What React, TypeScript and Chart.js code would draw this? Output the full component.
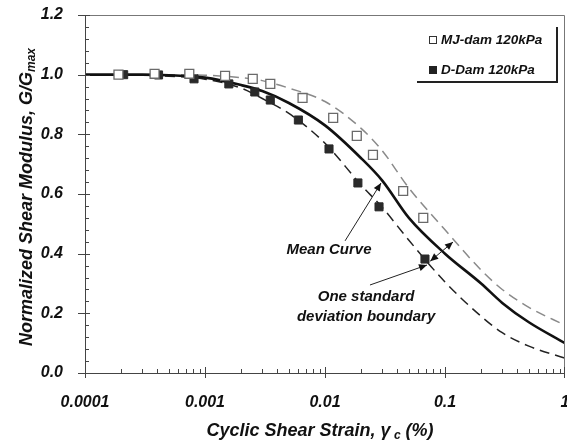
import React, { useEffect, useRef } from 'react';
import { Chart, registerables } from 'chart.js';

Chart.register(...registerables);

// ---------- data ----------
const curveStrain = [0.0001, 0.0002, 0.0003, 0.0005, 0.001, 0.002, 0.003, 0.005, 0.01, 0.02, 0.03, 0.05, 0.1, 0.2, 0.3, 0.5, 1];
const meanCurve = [1.0, 1.0, 1.0, 0.998, 0.99, 0.965, 0.945, 0.905, 0.83, 0.72, 0.645, 0.52, 0.40, 0.30, 0.235, 0.17, 0.10];
const upperCurve = [1.0, 1.0, 1.0, 1.0, 0.998, 0.99, 0.98, 0.955, 0.91, 0.82, 0.745, 0.62, 0.48, 0.345, 0.28, 0.22, 0.16];
const lowerCurve = [1.0, 1.0, 0.998, 0.995, 0.985, 0.955, 0.92, 0.87, 0.77, 0.63, 0.555, 0.445, 0.305, 0.19, 0.135, 0.09, 0.05];

const mjStrain = [0.00019, 0.00038, 0.00074, 0.00147, 0.0025, 0.0035, 0.0065, 0.0117, 0.0184, 0.0251, 0.0448, 0.0659];
const mjModulus = [1.0, 1.003, 1.003, 0.996, 0.986, 0.969, 0.922, 0.855, 0.795, 0.731, 0.61, 0.52];
const dStrain = [0.00021, 0.00041, 0.00081, 0.00158, 0.0026, 0.0035, 0.006, 0.0108, 0.0188, 0.0282, 0.0681];
const dModulus = [1.0, 0.999, 0.986, 0.969, 0.942, 0.915, 0.848, 0.751, 0.637, 0.557, 0.382];

const xTickValues = [0.0001, 0.001, 0.01, 0.1, 1];
const xTickLabels = ['0.0001', '0.001', '0.01', '0.1', '1'];
const yTickValues = [0, 0.2, 0.4, 0.6, 0.8, 1.0, 1.2];
const yTickLabels = ['0.0', '0.2', '0.4', '0.6', '0.8', '1.0', '1.2'];

const legendLabels = ['MJ-dam 120kPa', 'D-Dam 120kPa'];

// annotations in data units
const meanLabel = { text: 'Mean Curve', x: 0.0108, y: 0.412 };
const meanArrow = { from: [0.0147, 0.443], to: [0.0293, 0.637] };
const sdLabel = [
  { text: 'One standard', x: 0.022, y: 0.255 },
  { text: 'deviation boundary', x: 0.022, y: 0.188 },
];
const sdArrow = { from: [0.0237, 0.295], to: [0.0708, 0.362] };
const sdDoubleArrow = { from: [0.0753, 0.375], to: [0.1166, 0.439] };

const FONT_FAMILY = '"Liberation Sans", Arial, sans-serif';
const f = (size: number) => `italic bold ${size}px ${FONT_FAMILY}`;

function drawArrowHead(ctx: CanvasRenderingContext2D, x1: number, y1: number, x2: number, y2: number) {
  const ang = Math.atan2(y2 - y1, x2 - x1);
  const len = 8;
  const w = 3.5;
  ctx.beginPath();
  ctx.moveTo(x2, y2);
  ctx.lineTo(x2 - len * Math.cos(ang) + w * Math.sin(ang), y2 - len * Math.sin(ang) - w * Math.cos(ang));
  ctx.lineTo(x2 - len * Math.cos(ang) - w * Math.sin(ang), y2 - len * Math.sin(ang) + w * Math.cos(ang));
  ctx.closePath();
  ctx.fill();
}

function drawRich(ctx: CanvasRenderingContext2D, parts: { t: string; sub?: boolean }[], size: number, subSize: number) {
  let total = 0;
  parts.forEach((p) => {
    ctx.font = f(p.sub ? subSize : size);
    total += ctx.measureText(p.t).width;
  });
  let x = -total / 2;
  ctx.textBaseline = 'middle';
  ctx.textAlign = 'left';
  parts.forEach((p) => {
    ctx.font = f(p.sub ? subSize : size);
    ctx.fillText(p.t, x, p.sub ? 5 : 0);
    x += ctx.measureText(p.t).width;
  });
}

const decorPlugin = {
  id: 'decor',
  afterDraw(chart: any) {
    const ctx: CanvasRenderingContext2D = chart.ctx;
    const xs = chart.scales.x;
    const ys = chart.scales.y;
    const ca = chart.chartArea;
    ctx.save();

    // frame top/right
    ctx.strokeStyle = '#777';
    ctx.lineWidth = 1;
    ctx.beginPath();
    ctx.moveTo(ca.left, ca.top + 0.5);
    ctx.lineTo(ca.right - 0.5, ca.top + 0.5);
    ctx.lineTo(ca.right - 0.5, ca.bottom);
    ctx.stroke();

    // axes lines
    ctx.strokeStyle = '#444';
    ctx.beginPath();
    ctx.moveTo(ca.left + 0.5, ca.top);
    ctx.lineTo(ca.left + 0.5, ca.bottom + 0.5);
    ctx.lineTo(ca.right, ca.bottom + 0.5);
    ctx.stroke();

    // x ticks
    ctx.beginPath();
    xTickValues.forEach((v, i) => {
      const px = Math.min(Math.round(xs.getPixelForValue(v)) + 0.5, ca.right - 0.5);
      ctx.moveTo(px, ca.bottom - 6);
      ctx.lineTo(px, ca.bottom + 5);
      if (i < xTickValues.length - 1) {
        for (let m = 2; m <= 9; m++) {
          const mx = Math.round(xs.getPixelForValue(v * m)) + 0.5;
          ctx.moveTo(mx, ca.bottom);
          ctx.lineTo(mx, ca.bottom - 4);
        }
      }
    });
    // y ticks
    yTickValues.forEach((v, i) => {
      const py = Math.round(ys.getPixelForValue(v)) + 0.5;
      ctx.moveTo(ca.left - 7, py);
      ctx.lineTo(ca.left + 5, py);
      if (i < yTickValues.length - 1) {
        for (let m = 1; m <= 4; m++) {
          const my = Math.round(ys.getPixelForValue(v + m * 0.04)) + 0.5;
          ctx.moveTo(ca.left, my);
          ctx.lineTo(ca.left + 4, my);
        }
      }
    });
    ctx.stroke();

    // axis titles
    ctx.fillStyle = '#111';
    ctx.save();
    ctx.translate(320, 431);
    drawRich(ctx, [{ t: 'Cyclic Shear Strain, γ' }, { t: ' c', sub: true }, { t: ' (%)' }], 18, 12);
    ctx.restore();
    ctx.save();
    ctx.translate(27, 197);
    ctx.rotate(-Math.PI / 2);
    drawRich(ctx, [{ t: 'Normalized Shear Modulus, G/G' }, { t: 'max', sub: true }], 18, 12);
    ctx.restore();

    // legend
    const lx = ca.right - 150;
    const ly = ca.top + 10;
    const lw = 142;
    const lh = 57;
    ctx.strokeStyle = '#222';
    ctx.lineWidth = 2;
    ctx.beginPath();
    ctx.moveTo(lx + 2, ly + lh);
    ctx.lineTo(lx + lw, ly + lh);
    ctx.lineTo(lx + lw, ly + 2);
    ctx.stroke();
    ctx.font = f(13.5);
    ctx.textAlign = 'left';
    ctx.textBaseline = 'middle';
    ctx.fillStyle = '#111';
    ctx.fillText(legendLabels[0], lx + 26, ly + 15);
    ctx.fillText(legendLabels[1], lx + 26, ly + 45);
    ctx.lineWidth = 1;
    ctx.strokeStyle = '#333';
    ctx.fillStyle = '#fff';
    ctx.fillRect(lx + 14.5, ly + 11.5, 7, 7);
    ctx.strokeRect(lx + 14.5, ly + 11.5, 7, 7);
    ctx.fillStyle = '#222';
    ctx.fillRect(lx + 14, ly + 41, 8, 8);

    // annotations
    ctx.fillStyle = '#111';
    ctx.font = f(15);
    ctx.textAlign = 'center';
    ctx.textBaseline = 'middle';
    ctx.fillText(meanLabel.text, xs.getPixelForValue(meanLabel.x), ys.getPixelForValue(meanLabel.y));
    sdLabel.forEach((l) => ctx.fillText(l.text, xs.getPixelForValue(l.x), ys.getPixelForValue(l.y)));

    ctx.strokeStyle = '#222';
    ctx.lineWidth = 1;
    const arrow = (a: { from: number[]; to: number[] }, both: boolean) => {
      const x1 = xs.getPixelForValue(a.from[0]);
      const y1 = ys.getPixelForValue(a.from[1]);
      const x2 = xs.getPixelForValue(a.to[0]);
      const y2 = ys.getPixelForValue(a.to[1]);
      ctx.beginPath();
      ctx.moveTo(x1, y1);
      ctx.lineTo(x2, y2);
      ctx.stroke();
      ctx.fillStyle = '#111';
      drawArrowHead(ctx, x1, y1, x2, y2);
      if (both) drawArrowHead(ctx, x2, y2, x1, y1);
    };
    arrow(meanArrow, false);
    arrow(sdArrow, false);
    arrow(sdDoubleArrow, true);

    ctx.restore();
  },
};

export default function App() {
  const ref = useRef<HTMLCanvasElement | null>(null);
  useEffect(() => {
    document.body.style.margin = '0';
    const canvas = ref.current;
    if (!canvas) return;
    const chart = new Chart(canvas, {
      type: 'scatter',
      data: {
        datasets: [
          {
            label: legendLabels[0],
            data: mjStrain.map((x, i) => ({ x, y: mjModulus[i] })),
            pointStyle: 'rect',
            pointRadius: 6.3,
            backgroundColor: '#fff',
            borderColor: '#6a6a6a',
            borderWidth: 1.3,
            showLine: false,
          },
          {
            label: legendLabels[1],
            data: dStrain.map((x, i) => ({ x, y: dModulus[i] })),
            pointStyle: 'rect',
            pointRadius: 5.7,
            backgroundColor: '#2a2a2a',
            borderColor: '#2a2a2a',
            borderWidth: 1,
            showLine: false,
          },
          {
            label: 'Mean',
            data: curveStrain.map((x, i) => ({ x, y: meanCurve[i] })),
            showLine: true,
            pointRadius: 0,
            borderColor: '#111',
            borderWidth: 2.6,
            cubicInterpolationMode: 'monotone',
          },
          {
            label: 'Upper',
            data: curveStrain.map((x, i) => ({ x, y: upperCurve[i] })),
            showLine: true,
            pointRadius: 0,
            borderColor: '#8a8a8a',
            borderWidth: 1.5,
            borderDash: [10, 6],
            cubicInterpolationMode: 'monotone',
          },
          {
            label: 'Lower',
            data: curveStrain.map((x, i) => ({ x, y: lowerCurve[i] })),
            showLine: true,
            pointRadius: 0,
            borderColor: '#222',
            borderWidth: 1.5,
            borderDash: [10, 6],
            cubicInterpolationMode: 'monotone',
          },
        ],
      },
      options: {
        responsive: false,
        animation: false,
        devicePixelRatio: 1,
        layout: { autoPadding: false, padding: { top: 15, right: 2, left: 0, bottom: 0 } },
        plugins: { legend: { display: false }, tooltip: { enabled: false }, title: { display: false } },
        scales: {
          x: {
            type: 'logarithmic',
            min: 0.0001,
            max: 1,
            grid: { display: false, drawTicks: false },
            border: { display: false },
            afterBuildTicks: (s: any) => {
              s.ticks = xTickValues.map((v) => ({ value: v }));
            },
            afterFit: (s: any) => {
              s.height = 68;
              s.paddingLeft = 0;
              s.paddingRight = 0;
            },
            ticks: {
              autoSkip: false,
              maxRotation: 0,
              padding: 20,
              color: '#111',
              font: { family: FONT_FAMILY, size: 16, style: 'italic', weight: 'bold' },
              callback: (v: any) => {
                const i = xTickValues.findIndex((t) => Math.abs(t - v) / t < 1e-6);
                return i >= 0 ? xTickLabels[i] : '';
              },
            },
          },
          y: {
            type: 'linear',
            min: 0,
            max: 1.2,
            grid: { display: false, drawTicks: false },
            border: { display: false },
            afterBuildTicks: (s: any) => {
              s.ticks = yTickValues.map((v) => ({ value: v }));
            },
            afterFit: (s: any) => {
              s.width = 85;
              s.paddingTop = 0;
              s.paddingBottom = 0;
            },
            ticks: {
              padding: 22,
              color: '#111',
              font: { family: FONT_FAMILY, size: 16, style: 'italic', weight: 'bold' },
              callback: (v: any) => {
                const i = yTickValues.findIndex((t) => Math.abs(t - v) < 1e-6);
                return i >= 0 ? yTickLabels[i] : '';
              },
            },
          },
        },
      } as any,
      plugins: [decorPlugin],
    });
    return () => chart.destroy();
  }, []);
  return (
    <div style={{ width: 567, height: 441, background: '#fff' }}>
      <canvas ref={ref} width={567} height={441} style={{ display: 'block' }} />
    </div>
  );
}
